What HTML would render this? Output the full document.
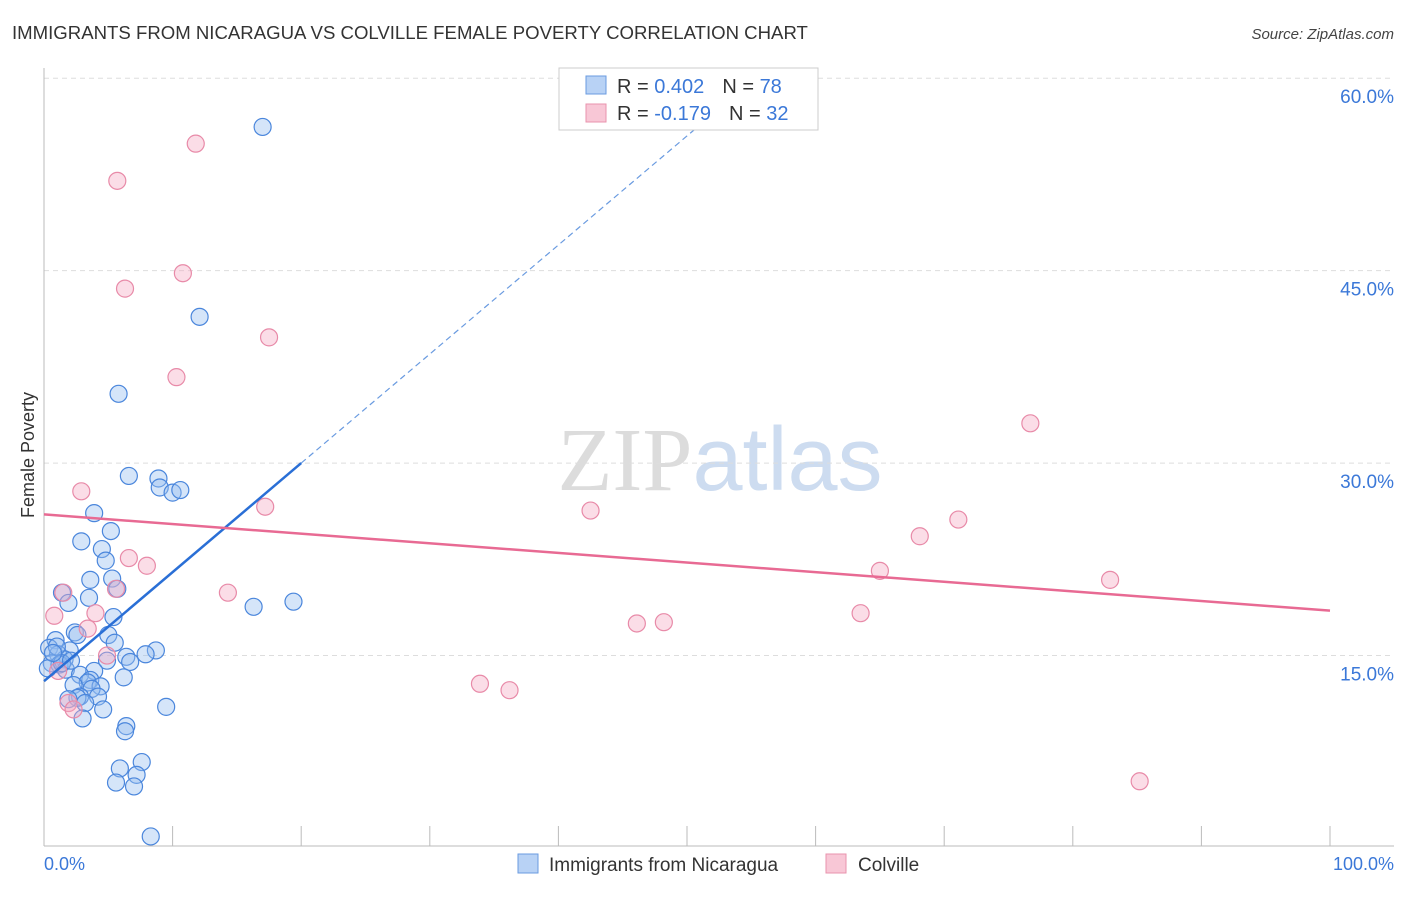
<!DOCTYPE html>
<html><head><meta charset="utf-8"><style>
body{margin:0;background:#fff;font-family:"Liberation Sans",sans-serif;}
</style></head><body>
<svg id="chart" width="1406" height="892" xmlns="http://www.w3.org/2000/svg" font-family="Liberation Sans, sans-serif">
<text x="12" y="39" font-size="18.6" fill="#333">IMMIGRANTS FROM NICARAGUA VS COLVILLE FEMALE POVERTY CORRELATION CHART</text>
<text x="1394" y="39" font-size="15" fill="#444" font-style="italic" text-anchor="end">Source: ZipAtlas.com</text>
<text x="720" y="490" font-size="90" text-anchor="middle"><tspan fill="#dcdcdc" font-family="Liberation Serif, serif">ZIP</tspan><tspan fill="#cddcf0">atlas</tspan></text>
<g id="grid"></g><g id="axes"></g><g id="pts"></g><g id="trend"></g>
<text transform="translate(34,455) rotate(-90)" font-size="18" fill="#333" text-anchor="middle">Female Poverty</text>
<text x="44" y="870" font-size="18" fill="#3b78d8">0.0%</text>
<text x="1394" y="870" font-size="18" fill="#3b78d8" text-anchor="end">100.0%</text>
<g>
<rect x="559" y="68" width="259" height="62" fill="#fff" stroke="#ccc"/>
<rect x="586" y="76" width="20" height="18" fill="#b8d2f5" stroke="#6a9be0"/>
<rect x="586" y="104" width="20" height="18" fill="#f8c7d6" stroke="#e993ad"/>
<text x="617" y="93" font-size="20" fill="#333">R = <tspan fill="#3b78d8">0.402</tspan><tspan dx="18">N = </tspan><tspan fill="#3b78d8">78</tspan></text>
<text x="617" y="120" font-size="20" fill="#333">R = <tspan fill="#3b78d8">-0.179</tspan><tspan dx="18">N = </tspan><tspan fill="#3b78d8">32</tspan></text>
</g>
<g>
<rect x="518" y="854" width="20" height="19" fill="#b8d2f5" stroke="#6a9be0"/>
<text x="549" y="871" font-size="19" fill="#333">Immigrants from Nicaragua</text>
<rect x="826" y="854" width="20" height="19" fill="#f8c7d6" stroke="#e993ad"/>
<text x="858" y="871" font-size="19" fill="#333">Colville</text>
</g>
</svg>
<script>
const yTicks=[15,30,45,60];
const yTickLabels=["15.0%","30.0%","45.0%","60.0%"];
const xTicks=[0,10,20,30,40,50,60,70,80,90,100];
const blueX=[17.0,12.1,5.8,6.6,8.9,9.0,10.0,10.6,3.9,5.2,2.9,4.5,4.8,5.3,3.6,5.7,1.4,3.5,1.9,16.3,19.4,5.4,2.4,2.6,5.0,5.5,0.9,2.0,0.4,8.7,7.9,6.4,6.7,4.9,1.1,1.6,0.6,1.2,0.3,1.7,3.9,6.2,2.8,3.6,3.4,2.3,4.4,3.7,2.8,2.6,1.9,4.2,3.2,9.5,4.6,3.0,6.4,6.3,7.6,5.9,7.2,5.6,7.0,8.3,1.0,1.4,0.7,2.1];
const blueY=[56.2,41.4,35.4,29.0,28.8,28.1,27.7,27.9,26.1,24.7,23.9,23.3,22.4,21.0,20.9,20.2,19.9,19.5,19.1,18.8,19.2,18.0,16.8,16.6,16.6,16.0,16.2,15.4,15.6,15.4,15.1,14.9,14.5,14.6,15.1,14.7,14.4,14.3,14.0,13.9,13.8,13.3,13.5,13.1,12.9,12.7,12.6,12.4,11.8,11.7,11.6,11.8,11.3,11.0,10.8,10.1,9.5,9.1,6.7,6.2,5.7,5.1,4.8,0.9,15.7,14.4,15.2,14.6];
const pinkX=[11.8,5.7,10.8,6.3,17.5,10.3,76.7,2.9,17.2,42.5,71.1,68.1,6.6,8.0,65.0,82.9,5.6,14.3,1.5,4.0,0.8,63.5,46.1,48.2,3.4,4.9,33.9,36.2,1.9,2.3,85.2,1.1];
const pinkY=[54.9,52.0,44.8,43.6,39.8,36.7,33.1,27.8,26.6,26.3,25.6,24.3,22.6,22.0,21.6,20.9,20.2,19.9,19.9,18.3,18.1,18.3,17.5,17.6,17.1,15.0,12.8,12.3,11.3,10.8,5.2,13.8];
const xS=v=>44+v*12.86, yS=v=>848-v*12.83;
const NS="http://www.w3.org/2000/svg";
function mk(t,a,p){const e=document.createElementNS(NS,t);for(const k in a)e.setAttribute(k,a[k]);p.appendChild(e);return e;}
const grid=document.getElementById('grid'),axes=document.getElementById('axes'),pts=document.getElementById('pts'),tr=document.getElementById('trend');
yTicks.forEach((v,i)=>{
 const l=mk('line',{x1:44,x2:1394,y1:yS(v),y2:yS(v),stroke:'#ddd','stroke-dasharray':'5,4'},grid);
 
 
 const t=mk('text',{x:1394,y:yS(v)+25,'font-size':19,fill:'#3b78d8','text-anchor':'end'},grid);t.textContent=yTickLabels[i];
 
 
});
mk('line',{x1:44,x2:44,y1:68,y2:846,stroke:'#bbb'},axes);
mk('line',{x1:44,x2:1394,y1:846,y2:846,stroke:'#bbb'},axes);
xTicks.forEach(v=>{const l=mk('line',{x1:xS(v),x2:xS(v),y1:826,y2:846,stroke:'#bbb'},axes);
 
 });
blueX.forEach((x,i)=>{const c=mk('circle',{cx:xS(x),cy:yS(blueY[i]),r:8.5,fill:'rgba(150,190,240,0.4)',stroke:'#4a86dc','stroke-width':1.2},pts);
 
 });
pinkX.forEach((x,i)=>{const c=mk('circle',{cx:xS(x),cy:yS(pinkY[i]),r:8.5,fill:'rgba(245,170,195,0.4)',stroke:'#e88aa8','stroke-width':1.2},pts);
 
 });
const bl=x=>13.0+x*0.85;
let e=mk('line',{x1:xS(0),y1:yS(bl(0)),x2:xS(20),y2:yS(bl(20)),stroke:'#2a6fd6','stroke-width':2.5},tr);


e=mk('line',{x1:xS(20),y1:yS(bl(20)),x2:xS(53),y2:yS(bl(53)),stroke:'#6a9be0','stroke-width':1.2,'stroke-dasharray':'6,4'},tr);


const pl=x=>26.0-x*0.075;
e=mk('line',{x1:xS(0),y1:yS(pl(0)),x2:xS(100),y2:yS(pl(100)),stroke:'#e86a93','stroke-width':2.5},tr);


</script>
</body></html>
